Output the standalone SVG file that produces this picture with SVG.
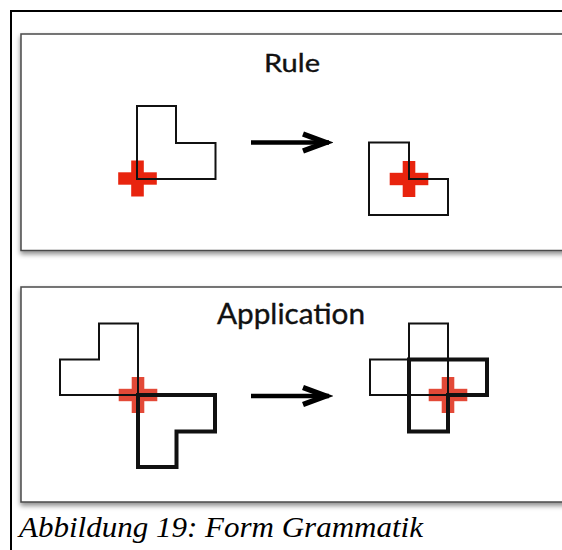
<svg xmlns="http://www.w3.org/2000/svg" width="562" height="550" viewBox="0 0 562 550">
  <style>
    .panel { fill: #ffffff; stroke: #4a4a4a; stroke-width: 1.5; }
    .thin { fill: none; stroke: #111111; stroke-width: 2; stroke-linejoin: miter; }
    .thick { fill: none; stroke: #111111; stroke-width: 4; stroke-linejoin: miter; }
    .cross { fill: #e8240e; }
    .cross-soft { fill: #e0301c; opacity: 0.88; }
    .title { font-family: Lato, "Open Sans", "Liberation Sans", sans-serif; fill: #111111; text-anchor: middle; stroke: #111111; stroke-width: 0.35; }
    .caption { font-family: "Liberation Serif", "DejaVu Serif", serif; font-style: italic; font-size: 30px; fill: #000000; }
    .arrow { stroke: #000000; stroke-width: 4.5; fill: none; }
  </style>
  <defs>
    <filter id="shadow" x="-5%" y="-10%" width="110%" height="125%">
      <feDropShadow dx="0" dy="3" stdDeviation="2.5" flood-color="#000000" flood-opacity="0.45"/>
    </filter>
    <marker id="head" markerUnits="userSpaceOnUse" markerWidth="36" markerHeight="28" viewBox="-32 -14 36 28" refX="0" refY="0" orient="auto">
      <path d="M-26,-8.5 L-3,0 L-26,8.5" fill="none" stroke="#000000" stroke-width="5.5" stroke-linejoin="miter"/>
    </marker>
    <!-- red marker cross, centred on 0,0 -->
    <g id="plus">
      <rect x="-19.3" y="-6.2" width="38.6" height="12.4"/>
      <rect x="-6.3" y="-18" width="12.6" height="36"/>
    </g>
  </defs>

  <rect width="562" height="550" fill="#ffffff"/>

  <!-- outer frame (left and top edges) -->
  <path d="M11,550 V11 H562" fill="none" stroke="#000000" stroke-width="2"/>

  <!-- panels -->
  <rect class="panel" x="21" y="34" width="560" height="216.5" filter="url(#shadow)"/>
  <rect class="panel" x="21" y="287" width="560" height="215" filter="url(#shadow)"/>

  <text class="title" x="292" y="72" font-size="25" textLength="56" lengthAdjust="spacingAndGlyphs">Rule</text>
  <text class="title" x="291" y="324" font-size="28" textLength="148" lengthAdjust="spacingAndGlyphs">Application</text>

  <!-- Rule: left-hand side -->
  <g id="rule-lhs">
    <use href="#plus" class="cross" x="137.5" y="178.5"/>
    <polygon class="thin" points="137,106 176,106 176,143 215.5,143 215.5,179 137,179"/>
  </g>

  <!-- Rule: right-hand side -->
  <g id="rule-rhs">
    <use href="#plus" class="cross" x="409" y="179"/>
    <polygon class="thin" points="369,142.5 409,142.5 409,179 448,179 448,215 369,215"/>
  </g>

  <!-- Application: before -->
  <g id="app-before">
    <use href="#plus" class="cross-soft" x="138" y="395"/>
    <polygon class="thin" points="60,359.5 99,359.5 99,323.5 138,323.5 138,395 60,395"/>
    <polygon class="thick" points="138,395 215,395 215,431.5 176.5,431.5 176.5,467 138,467"/>
  </g>

  <!-- Application: after -->
  <g id="app-after">
    <use href="#plus" class="cross-soft" x="448" y="395"/>
    <polygon class="thin" points="409,323.5 448,323.5 448,395 370,395 370,359.5 409,359.5"/>
    <polygon class="thick" points="409,359.5 487,359.5 487,395 448,395 448,431.5 409,431.5"/>
  </g>

  <!-- transformation arrows -->
  <g id="connectors">
    <line class="arrow" x1="251" y1="142.5" x2="329" y2="142.5" marker-end="url(#head)"/>
    <line class="arrow" x1="251" y1="396" x2="329" y2="396" marker-end="url(#head)"/>
  </g>

  <text class="caption" x="19" y="537" textLength="404" lengthAdjust="spacingAndGlyphs">Abbildung 19: Form Grammatik</text>
</svg>
